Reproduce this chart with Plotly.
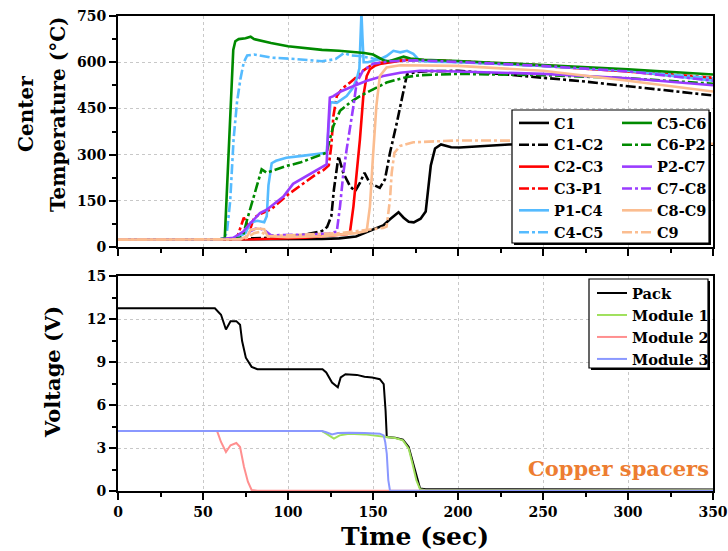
import plotly.graph_objects as go

# ---------------- data: upper panel (center temperature, deg C) ----------------
t_c1 = [0, 100, 120, 130, 140, 146, 152, 156, 160, 165, 168, 171, 174, 178, 181, 182.5, 184, 186.5, 190, 196, 201, 213, 230, 260, 300, 350]
T_c1 = [24, 25, 26, 28, 34, 48, 62, 70, 90, 113, 95, 82, 80, 92, 115, 190, 265, 320, 333, 324, 323, 327, 333, 335, 335, 332]

t_c1c2 = [0, 60, 90, 110, 120, 123, 125.5, 127, 129.7, 132.5, 136.5, 139.5, 142.3, 145, 148, 151, 154, 157, 160, 164, 168, 170, 175, 182, 190, 200, 225, 250, 275, 300, 325, 350]
T_c1c2 = [24, 25, 30, 40, 52, 65, 100, 186, 295, 241, 197, 181, 208, 241, 208, 200, 192, 219, 306, 403, 512, 560, 568, 571, 571, 572, 562, 550, 537, 522, 508, 492]

t_c2c3 = [0, 80, 110, 130, 135, 136.5, 138.5, 140.4, 142.3, 144.3, 146.3, 148.2, 151, 154, 160, 170, 180, 200, 250, 300, 350]
T_c2c3 = [24, 25, 30, 38, 42, 50, 132, 241, 349, 490, 555, 577, 588, 594, 600, 608, 606, 602, 588, 570, 545]

t_c3p1 = [0, 65, 70, 72, 74, 76, 78, 80, 84, 90, 100, 110, 117, 121, 124, 125.5, 126.7, 128.7, 132, 136, 140, 144, 150, 160, 170, 200, 250, 300, 350]
T_c3p1 = [24, 25, 30, 60, 95, 75, 62, 95, 108, 122, 170, 210, 238, 250, 265, 330, 425, 490, 515, 532, 550, 572, 594, 603, 608, 603, 590, 572, 550]

t_p1c4 = [0, 60, 70, 75, 78, 82, 86, 87.5, 88.5, 90.4, 93, 99, 107, 115, 122.7, 123.8, 125, 128.7, 134.5, 138, 140.4, 142, 142.6, 143.2, 143.8, 144.5, 147, 154, 158, 162, 166, 170, 173.7, 177.6, 185, 200, 250, 300, 350]
T_p1c4 = [24, 25, 30, 45, 80, 85, 80, 100, 200, 272, 280, 290, 295, 300, 306, 380, 470, 468, 490, 515, 545, 580, 700, 760, 680, 600, 600, 610, 620, 637, 632, 637, 627, 604, 602, 600, 588, 572, 540]

t_c4c5 = [0, 60, 62, 64, 66, 68, 70, 72, 74, 76, 80, 90, 105, 120, 128, 133, 137, 142, 150, 160, 175, 200, 250, 300, 350]
T_c4c5 = [24, 25, 28, 45, 150, 350, 470, 545, 600, 622, 625, 615, 610, 603, 610, 630, 622, 620, 612, 605, 606, 601, 588, 572, 548]

t_c5c6 = [0, 60, 62.8, 65, 67.8, 69, 71, 75, 78, 80, 90, 100, 110, 120, 130, 140, 145, 150, 154, 157, 160, 163, 168, 172, 180, 200, 250, 300, 350]
T_c5c6 = [24, 25, 28, 300, 640, 668, 675, 678, 683, 675, 662, 652, 645, 640, 637, 632, 630, 625, 612, 604, 604, 610, 618, 612, 608, 604, 590, 577, 560]

t_c6p2 = [0, 65, 72, 73.7, 76, 79, 82, 84.5, 87.5, 93, 99, 107, 115, 122.7, 124.6, 126.7, 130.6, 136.5, 142.3, 150, 158, 165, 170, 178, 200, 250, 300, 350]
T_c6p2 = [24, 25, 30, 40, 90, 150, 210, 252, 241, 252, 263, 274, 290, 306, 349, 393, 442, 469, 490, 512, 534, 545, 552, 558, 562, 558, 548, 530]

t_p2c7 = [0, 60, 67.8, 70, 73.7, 77, 79.6, 83.5, 87.5, 92, 97.3, 103, 111, 117, 122.7, 123.6, 124.6, 126.7, 131, 136.5, 146, 156, 166, 177.6, 200, 250, 300, 350]
T_p2c7 = [24, 25, 30, 38, 50, 72, 88, 110, 121, 140, 164, 205, 230, 250, 268, 380, 485, 490, 505, 518, 539, 555, 566, 572, 570, 562, 548, 525]

t_c7c8 = [0, 70, 75, 78, 82, 86, 90, 110, 124, 128.7, 130.6, 132.6, 134.5, 136.5, 138.5, 140.4, 144, 150, 160, 175, 200, 250, 300, 350]
T_c7c8 = [24, 25, 30, 52, 62, 55, 38, 40, 44, 50, 132, 241, 317, 382, 458, 534, 572, 595, 603, 606, 601, 588, 570, 540]

t_c8c9 = [0, 72, 76, 78, 82, 86, 88, 100, 120, 140, 146.3, 148.2, 150, 152, 154, 158, 166, 175, 200, 250, 300, 350]
T_c8c9 = [24, 25, 35, 55, 60, 58, 35, 32, 35, 45, 52, 132, 295, 458, 555, 583, 590, 590, 588, 572, 540, 505]

t_c9 = [0, 72, 76, 80, 84, 88, 100, 130, 150, 156, 158, 160, 161, 162.6, 166, 173.7, 200, 250, 300, 350]
T_c9 = [24, 25, 30, 45, 50, 35, 38, 45, 58, 62, 66, 154, 241, 306, 328, 340, 346, 345, 340, 335]

# ---------------- data: lower panel (voltage, V) ----------------
t_pack = [0, 57, 60.6, 63.5, 66.2, 69.6, 71.8, 73, 75.2, 78.6, 82, 100, 120.3, 122.5, 125.9, 129.3, 131, 133.8, 140.5, 145, 149.5, 154, 156.3, 157.4, 158.1, 163, 167.6, 171, 173.2, 175.5, 177.7, 181, 250, 350]
V_pack = [12.75, 12.75, 12.3, 11.27, 11.85, 11.85, 11.6, 10.46, 9.3, 8.66, 8.5, 8.5, 8.5, 8.27, 7.57, 7.23, 7.92, 8.15, 8.1, 7.97, 7.92, 7.8, 7.46, 5.6, 3.76, 3.72, 3.58, 3.07, 2.15, 1.0, 0.18, 0.12, 0.1, 0.1]

t_m1 = [0, 120, 122.5, 125, 127, 130.4, 136, 145, 154, 158.6, 163, 167.6, 171, 173.2, 175.5, 177.7, 181, 350]
V_m1 = [4.18, 4.18, 4.0, 3.8, 3.65, 3.88, 4.0, 3.95, 3.81, 3.72, 3.7, 3.53, 2.96, 1.92, 0.76, 0.12, 0.05, 0.05]

t_m2 = [0, 58.3, 60.6, 63.5, 66.2, 69.6, 71.8, 74.1, 76.4, 78.6, 82, 350]
V_m2 = [4.18, 4.18, 3.42, 2.72, 3.19, 3.35, 3.07, 1.69, 0.65, 0.07, 0.02, 0.02]

t_m3 = [0, 120, 122.5, 125.9, 129.3, 136, 145, 154, 156.3, 157.2, 158.1, 159, 160, 350]
V_m3 = [4.18, 4.18, 4.1, 3.95, 4.04, 4.07, 4.05, 4.0, 3.88, 3.4, 2.6, 0.76, 0.02, 0.02]

temp_names = ["C1", "C1-C2", "C2-C3", "C3-P1", "P1-C4", "C4-C5",
              "C5-C6", "C6-P2", "P2-C7", "C7-C8", "C8-C9", "C9"]
temp_t = [t_c1, t_c1c2, t_c2c3, t_c3p1, t_p1c4, t_c4c5,
          t_c5c6, t_c6p2, t_p2c7, t_c7c8, t_c8c9, t_c9]
temp_T = [T_c1, T_c1c2, T_c2c3, T_c3p1, T_p1c4, T_c4c5,
          T_c5c6, T_c6p2, T_p2c7, T_c7c8, T_c8c9, T_c9]

volt_names = ["Pack", "Module 1", "Module 2", "Module 3"]
volt_t = [t_pack, t_m1, t_m2, t_m3]
volt_V = [V_pack, V_m1, V_m2, V_m3]

x_ticks = [0, 50, 100, 150, 200, 250, 300, 350]

# ---------------- styles ----------------
temp_colors = ["#000000", "#000000", "#ff0000", "#ff0000", "#55bbff", "#55bbff",
               "#008a00", "#008a00", "#9a3cff", "#9a3cff", "#fbbd90", "#fbbd90"]
DASHDOT = "10px,3px,3px,3px"
temp_dash = ["solid", DASHDOT] * 6
volt_colors = ["#000000", "#9fe05c", "#ff8f8f", "#8a98ff"]

W, H = 728, 551
L, R, T, B = 118, 15, 16, 60
PW, PH = W - L - R, H - T - B


def px2x(px):
    return (px - L) / PW


def py2y(py):
    return (H - B - py) / PH


FONT = "DejaVu Serif"

fig = go.Figure()

for i, name in enumerate(temp_names):
    fig.add_trace(go.Scatter(
        x=temp_t[i], y=temp_T[i], mode="lines", name=name,
        line=dict(color=temp_colors[i], width=2.6, dash=temp_dash[i]),
        xaxis="x2", yaxis="y2",
        legend="legend" if i < 6 else "legend2",
    ))

for i, name in enumerate(volt_names):
    fig.add_trace(go.Scatter(
        x=volt_t[i], y=volt_V[i], mode="lines", name=name,
        line=dict(color=volt_colors[i], width=2),
        xaxis="x", yaxis="y", legend="legend3",
    ))

tickfont = dict(family=FONT, size=14, color="black", weight="bold")
common = dict(
    ticks="outside", ticklen=7, tickwidth=2, tickcolor="black",
    showline=True, linecolor="black", linewidth=2, mirror=True,
    showgrid=True, gridcolor="#c8c8c8", griddash="dot", gridwidth=1,
    zeroline=False, tickfont=tickfont,
)
minor = lambda d: dict(dtick=d, ticks="outside", ticklen=4, tickwidth=1.5,
                       tickcolor="black", showgrid=False)

top_y0 = py2y(247)
bot_y1 = py2y(276)

fig.update_layout(
    width=W, height=H,
    margin=dict(l=L, r=R, t=T, b=B, autoexpand=False),
    paper_bgcolor="white", plot_bgcolor="white",
    showlegend=True,
    xaxis=dict(domain=[0, 1], anchor="y", range=[0, 350], tickvals=x_ticks,
               minor=minor(25), **common),
    yaxis=dict(domain=[0, bot_y1], anchor="x", range=[0, 15], tick0=0, dtick=3,
               minor=minor(1.5), **common),
    xaxis2=dict(domain=[0, 1], anchor="y2", range=[0, 350], tickvals=x_ticks,
                showticklabels=False, minor=minor(25), **common),
    yaxis2=dict(domain=[top_y0, 1], anchor="x2", range=[0, 750], tick0=0, dtick=150,
                minor=minor(75), **common),
    legend=dict(x=px2x(514), y=py2y(107), xanchor="left", yanchor="top",
                bgcolor="rgba(0,0,0,0)", borderwidth=0, tracegroupgap=0,
                font=dict(family=FONT, size=14.5, color="black", weight="bold")),
    legend2=dict(x=px2x(617), y=py2y(107), xanchor="left", yanchor="top",
                 bgcolor="rgba(0,0,0,0)", borderwidth=0, tracegroupgap=0,
                 font=dict(family=FONT, size=14.5, color="black", weight="bold")),
    legend3=dict(x=px2x(592), y=py2y(277), xanchor="left", yanchor="top",
                 bgcolor="rgba(0,0,0,0)", borderwidth=0, tracegroupgap=0,
                 font=dict(family=FONT, size=14.6, color="black", weight="bold")),
)

shapes = []
for (x0, y0, x1, y1) in [(512, 110, 709, 243), (589, 279, 708, 368)]:
    shapes.append(dict(type="rect", xref="paper", yref="paper", layer="above",
                       x0=px2x(x0 + 2), x1=px2x(x1 + 2), y0=py2y(y1 + 2), y1=py2y(y0 + 2),
                       fillcolor="black", line=dict(width=0)))
    shapes.append(dict(type="rect", xref="paper", yref="paper", layer="above",
                       x0=px2x(x0), x1=px2x(x1), y0=py2y(y1), y1=py2y(y0),
                       fillcolor="white", line=dict(color="black", width=1.2)))
fig.update_layout(shapes=shapes)

title_font = dict(family=FONT, size=20, color="black", weight="bold")
annotations = [
    dict(text="Center", x=px2x(26), y=py2y(114), xref="paper", yref="paper",
         textangle=-90, showarrow=False, font=title_font,
         xanchor="center", yanchor="middle"),
    dict(text="Temperature (°C)", x=px2x(58), y=py2y(114), xref="paper", yref="paper",
         textangle=-90, showarrow=False, font=title_font,
         xanchor="center", yanchor="middle"),
    dict(text="Voltage (V)", x=px2x(52), y=py2y(372), xref="paper", yref="paper",
         textangle=-90, showarrow=False, font=dict(family=FONT, size=21, color="black", weight="bold"),
         xanchor="center", yanchor="middle"),
    dict(text="Time (sec)", x=px2x(415), y=py2y(536), xref="paper", yref="paper",
         showarrow=False, font=dict(family=FONT, size=25, color="black", weight="bold"),
         xanchor="center", yanchor="middle"),
    dict(text="Copper spacers", x=px2x(711), y=py2y(468), xref="paper", yref="paper",
         showarrow=False, font=dict(family=FONT, size=21, color="#ed7d31", weight="bold"),
         xanchor="right", yanchor="middle"),
]
fig.update_layout(annotations=annotations)

fig.write_html("out.html")
